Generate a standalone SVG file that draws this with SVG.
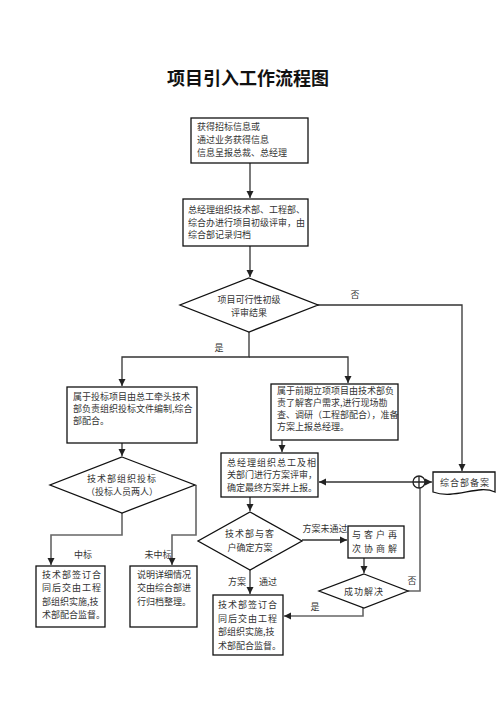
<svg xmlns="http://www.w3.org/2000/svg" width="496" height="702" viewBox="0 0 496 702">
<defs>
<marker id="arr" markerWidth="8" markerHeight="8" refX="7" refY="4" orient="auto" markerUnits="userSpaceOnUse">
<path d="M0,0.5 L7,4 L0,7.5 Z" fill="#222"/>
</marker>
<style>
.box{fill:#fff;stroke:#111;stroke-width:1.3}
.t{font-family:"Noto Sans CJK SC","Noto Sans",sans-serif;font-size:9px;fill:#333}
.ts{letter-spacing:1px}
.c{text-anchor:middle}
.ln{fill:none;stroke:#333;stroke-width:1.3}
.g{stroke:#666;stroke-width:1.6}
</style>
</defs>
<rect width="496" height="702" fill="#fff"/>
<text x="248" y="85" text-anchor="middle" font-family="'Noto Sans CJK SC',sans-serif" font-size="18" font-weight="bold" fill="#111">项目引入工作流程图</text>

<g id="connectors">
<path class="ln" d="M250,163 V198" marker-end="url(#arr)"/>
<path class="ln" d="M250,246 V277" marker-end="url(#arr)"/>
<path class="ln" d="M317,305 H462 V471" marker-end="url(#arr)"/>
<path class="ln" d="M249,332 V357 H122 V386" marker-end="url(#arr)"/>
<path class="ln" d="M249,357 H348 V383" marker-end="url(#arr)"/>
<path class="ln" d="M282,440 V452" marker-end="url(#arr)"/>
<path class="ln" d="M122,443 V456" marker-end="url(#arr)"/>
<path class="ln g" d="M122,513 V535 H51 V565" marker-end="url(#arr)"/>
<path class="ln g" d="M196,485 V535 H172 V565" marker-end="url(#arr)"/>
<path class="ln" d="M413,482 H319" marker-end="url(#arr)"/>
<path class="ln" d="M425,482 H432" marker-end="url(#arr)"/>
<path class="ln" d="M250,497 V511" marker-end="url(#arr)"/>
<path class="ln" d="M302,540 H347" marker-end="url(#arr)"/>
<path class="ln" d="M364,558 V573" marker-end="url(#arr)"/>
<path class="ln g" d="M408,591 H420 V488"/>
<path class="ln g" d="M363,608 V616 H284" marker-end="url(#arr)"/>
<path class="ln" d="M250,570 V594" marker-end="url(#arr)"/>
<circle cx="419" cy="482" r="6" fill="none" stroke="#222" stroke-width="1.3"/>
<path d="M413,482 H425 M419,476 V488" stroke="#222" stroke-width="1.3"/>
<text class="t" x="355" y="298" text-anchor="middle">否</text>
<text class="t" x="219" y="351" text-anchor="middle">是</text>
<text class="t" x="83" y="558" text-anchor="middle">中标</text>
<text class="t" x="158" y="558" text-anchor="middle">未中标</text>
<text class="t" x="325" y="532" text-anchor="middle">方案未通过</text>
<text class="t" x="237" y="585" text-anchor="middle">方案</text>
<text class="t" x="268" y="585" text-anchor="middle">通过</text>
<text class="t" x="412" y="584" text-anchor="middle">否</text>
<text class="t" x="315" y="610" text-anchor="middle">是</text>
</g>

<g id="n1">
<rect class="box" x="191" y="118" width="117" height="45"/>
<text class="t" x="197" y="130">获得招标信息或</text>
<text class="t" x="197" y="143">通过业务获得信息</text>
<text class="t" x="197" y="156">信息呈报总裁、总经理</text>
</g>

<g id="n2">
<rect class="box" x="183" y="199" width="125" height="47"/>
<text class="t" x="188" y="213">总经理组织技术部、工程部、</text>
<text class="t" x="188" y="226">综合办进行项目初级评审，由</text>
<text class="t" x="188" y="238">综合部记录归档</text>
</g>

<g id="n3">
<polygon class="box" points="249,278 318,305 249,332 180,305"/>
<text class="t c" x="249" y="303">项目可行性初级</text>
<text class="t c" x="249" y="316">评审结果</text>
</g>

<g id="n4">
<rect class="box" x="67" y="387" width="130" height="56"/>
<text class="t" x="73" y="400">属于投标项目由总工牵头技术</text>
<text class="t" x="73" y="412">部负责组织投标文件编制,综合</text>
<text class="t" x="73" y="424">部配合。</text>
</g>

<g id="n5">
<rect class="box" x="271" y="384" width="127" height="56"/>
<text class="t" x="277" y="394" font-size="8.5">属于前期立项项目由技术部负</text>
<text class="t" x="277" y="406" font-size="8.5">责了解客户需求,进行现场勘</text>
<text class="t" x="277" y="418" font-size="8.5">查、调研（工程部配合），准备</text>
<text class="t" x="277" y="430" font-size="8.5">方案上报总经理。</text>
</g>

<g id="n6">
<polygon class="box" points="122,457 195,485 122,513 50,485"/>
<text class="t c ts" x="122" y="482">技术部组织投标</text>
<text class="t c" x="122" y="495">（投标人员两人）</text>
</g>

<g id="n7">
<rect class="box" x="221" y="453" width="97" height="44"/>
<text class="t ts" x="227" y="466">总经理组织总工及相</text>
<text class="t" x="227" y="478">关部门进行方案评审，</text>
<text class="t" x="227" y="491">确定最终方案并上报。</text>
</g>

<g id="n8">
<path class="box" d="M433,472 H495 V492 C478,484 455,500 433,492 Z"/>
<text class="t ts" x="440" y="486">综合部备案</text>
</g>

<g id="n9">
<polygon class="box" points="250,512 302,541 250,570 198,541"/>
<text class="t c ts" x="250" y="537">技术部与客</text>
<text class="t c" x="250" y="551">户确定方案</text>
</g>

<g id="n10">
<rect class="box" x="348" y="526" width="56" height="32"/>
<text class="t c" x="376" y="538" letter-spacing="3">与客户再</text>
<text class="t c" x="376" y="552" letter-spacing="3">次协商解</text>
</g>

<g id="n11">
<polygon class="box" points="364,574 408,591 364,608 319,591"/>
<text class="t c ts" x="364" y="595">成功解决</text>
</g>

<g id="n12">
<rect class="box" x="36" y="566" width="69" height="61"/>
<text class="t ts" x="42" y="578">技术部签订合</text>
<text class="t ts" x="42" y="591">同后交由工程</text>
<text class="t" x="42" y="605">部组织实施,技</text>
<text class="t" x="42" y="618">术部配合监督。</text>
</g>

<g id="n13">
<rect class="box" x="130" y="566" width="67" height="61"/>
<text class="t" x="137" y="578">说明详细情况</text>
<text class="t" x="137" y="591">交由综合部进</text>
<text class="t" x="137" y="605">行归档整理。</text>
</g>

<g id="n14">
<rect class="box" x="213" y="595" width="70" height="60"/>
<text class="t ts" x="218" y="608">技术部签订合</text>
<text class="t ts" x="218" y="622">同后交由工程</text>
<text class="t" x="218" y="635">部组织实施,技</text>
<text class="t" x="218" y="649">术部配合监督。</text>
</g>
</svg>
